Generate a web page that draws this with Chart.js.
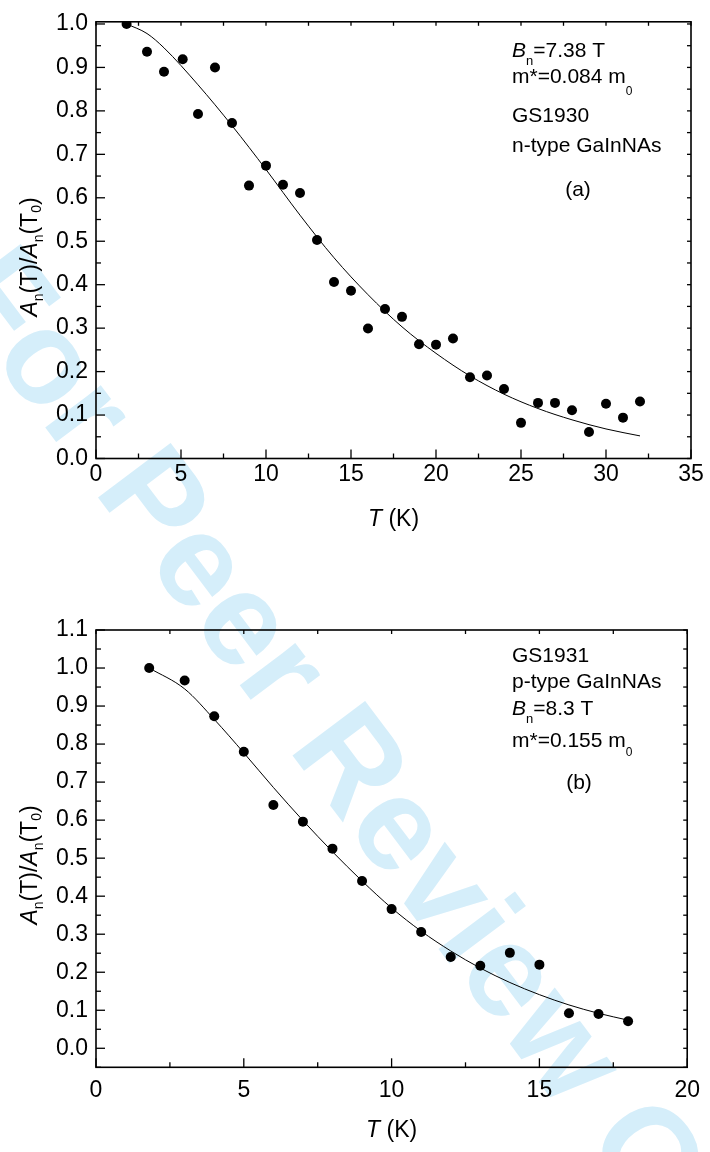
<!DOCTYPE html>
<html>
<head>
<meta charset="utf-8">
<script src="https://cdn.jsdelivr.net/npm/chart.js@4.4.1/dist/chart.umd.min.js"></script>
<style>
    html, body { margin: 0; padding: 0; background: #fff; }
    #page { position: relative; width: 710px; height: 1152px; overflow: hidden; background: #fff; }
    #mark {
        position: absolute; left: -58px; top: 180px;
        font: bold 132px "Liberation Sans", Arial, sans-serif; line-height: 132px;
        color: #d5eefa; white-space: nowrap;
        transform-origin: 0 112px; transform: rotate(53deg);
    }
    .panel { position: absolute; left: 0; width: 710px; }
    #panelA { top: 0; height: 560px; }
    #panelB { top: 600px; height: 552px; }
</style>
</head>
<body>
<div id="page">
    <div id="mark">For Peer Review Only</div>
    <div class="panel" id="panelA"><canvas id="chartA"></canvas></div>
    <div class="panel" id="panelB"><canvas id="chartB"></canvas></div>
</div>
<script>
// (a) GS1930, n-type: measured amplitude ratio vs temperature
const tempA = [1.8, 3, 4, 5.1, 6, 7, 8, 9, 10, 11, 12, 13, 14, 15, 16, 17, 18, 19, 20, 21, 22, 23, 24, 25, 26, 27, 28, 29, 30, 31, 32];
const ampA = [1.0, 0.936, 0.890, 0.919, 0.793, 0.900, 0.772, 0.628, 0.674, 0.630, 0.611, 0.503, 0.406, 0.386, 0.299, 0.344, 0.326, 0.263, 0.262, 0.276, 0.187, 0.191, 0.160, 0.082, 0.128, 0.128, 0.111, 0.061, 0.126, 0.094, 0.131];
// fitted curve (a)
const fitTempA = [1.8, 3, 4, 6, 8, 10, 12, 14, 16, 18, 20, 22, 24, 26, 28, 30, 32];
const fitAmpA = [1.0, 0.978, 0.945, 0.86, 0.766, 0.665, 0.56, 0.462, 0.377, 0.303, 0.242, 0.19, 0.148, 0.115, 0.089, 0.068, 0.052];

// (b) GS1931, p-type
const tempB = [1.8, 3, 4, 5, 6, 7, 8, 9, 10, 11, 12, 13, 14, 15, 16, 17, 18];
const ampB = [1.0, 0.967, 0.873, 0.780, 0.640, 0.596, 0.525, 0.440, 0.366, 0.306, 0.240, 0.217, 0.251, 0.220, 0.092, 0.090, 0.071];
const fitTempB = [1.8, 3, 4, 5, 6, 7, 8, 9, 10, 11, 12, 13, 14, 15, 16, 17, 18];
const fitAmpB = [1.0, 0.945, 0.865, 0.777, 0.686, 0.599, 0.517, 0.44, 0.369, 0.308, 0.256, 0.211, 0.173, 0.141, 0.114, 0.092, 0.074];

// axis ticks
const xTicksA = [0, 5, 10, 15, 20, 25, 30, 35];
const yTicksA = [0, 0.1, 0.2, 0.3, 0.4, 0.5, 0.6, 0.7, 0.8, 0.9, 1.0];
const xTicksB = [0, 5, 10, 15, 20];
const yTicksB = [0, 0.1, 0.2, 0.3, 0.4, 0.5, 0.6, 0.7, 0.8, 0.9, 1.0, 1.1];

const FONT = '"Liberation Sans", Arial, Helvetica, sans-serif';

const toPoints = (xs, ys) => xs.map((x, i) => ({ x, y: ys[i] }));
const halves = ticks => ticks.slice(1).map((v, i) => (v + ticks[i]) / 2);

// frame on all four sides, tick marks pointing inwards
const frameTicks = {
    id: 'frameTicks',
    afterDatasetsDraw(chart, args, opts) {
        const { ctx, chartArea: a, scales: { x, y } } = chart;
        const xMinor = halves(opts.xTicks);
        const yMinor = halves(opts.yTicks).concat(opts.yExtraMinor || []);
        const line = (x0, y0, x1, y1) => { ctx.beginPath(); ctx.moveTo(x0, y0); ctx.lineTo(x1, y1); ctx.stroke(); };
        ctx.save();
        ctx.strokeStyle = '#000';
        ctx.lineWidth = 1.3;
        opts.xTicks.forEach(v => { const p = x.getPixelForValue(v); line(p, a.bottom, p, a.bottom - 9); line(p, a.top, p, a.top + 4); });
        xMinor.forEach(v => { const p = x.getPixelForValue(v); line(p, a.bottom, p, a.bottom - 5); line(p, a.top, p, a.top + 4); });
        opts.yTicks.forEach(v => { const p = y.getPixelForValue(v); line(a.left, p, a.left + 9, p); line(a.right, p, a.right - 4, p); });
        yMinor.forEach(v => { const p = y.getPixelForValue(v); line(a.left, p, a.left + 5, p); line(a.right, p, a.right - 4, p); });
        ctx.lineWidth = 1.6;
        ctx.strokeRect(a.left, a.top, a.right - a.left, a.bottom - a.top);
        ctx.restore();
    }
};

// text runs with italics and subscripts
function drawRich(ctx, parts, x, y, align) {
    const fontOf = p => `${p.it ? 'italic ' : ''}${p.size || 21}px ${FONT}`;
    let w = 0;
    parts.forEach(p => { ctx.font = fontOf(p); w += ctx.measureText(p.t).width; });
    let cx = align === 'center' ? x - w / 2 : x;
    parts.forEach(p => {
        ctx.font = fontOf(p);
        ctx.fillText(p.t, cx, y + (p.dy || 0));
        cx += ctx.measureText(p.t).width;
    });
}

const richText = {
    id: 'richText',
    afterDraw(chart, args, opts) {
        const { ctx, chartArea: a } = chart;
        ctx.save();
        ctx.fillStyle = '#000';
        ctx.textBaseline = 'alphabetic';
        ctx.textAlign = 'left';
        opts.notes.forEach(n => drawRich(ctx, n.parts, n.x, n.y, n.align));
        // x title
        drawRich(ctx, [{ t: 'T', it: true, size: 23 }, { t: ' (K)', size: 23 }], (a.left + a.right) / 2, opts.xTitleY, 'center');
        // y title
        ctx.translate(opts.yTitleX, opts.yTitleY);
        ctx.rotate(-Math.PI / 2);
        drawRich(ctx, [
            { t: 'A', it: true, size: 23 }, { t: 'n', size: 14, dy: 6 },
            { t: '(T)/', size: 23 },
            { t: 'A', it: true, size: 23 }, { t: 'n', size: 14, dy: 6 },
            { t: '(T', size: 23 }, { t: '0', size: 14, dy: 4 }, { t: ')', size: 23 }
        ], 0, 0, 'center');
        ctx.restore();
    }
};

function makeChart(id, d) {
    return new Chart(document.getElementById(id), {
        type: 'scatter',
        data: {
            datasets: [
                {
                    data: toPoints(d.fitX, d.fitY), showLine: true, borderColor: '#000', borderWidth: 1,
                    pointRadius: 0, cubicInterpolationMode: 'monotone', order: 2
                },
                {
                    data: toPoints(d.x, d.y), pointRadius: 5, pointBackgroundColor: '#000',
                    pointBorderColor: '#000', pointBorderWidth: 0, order: 1
                }
            ]
        },
        options: {
            responsive: true,
            maintainAspectRatio: false,
            animation: false,
            events: [],
            layout: { padding: d.padding },
            plugins: {
                legend: { display: false },
                tooltip: { enabled: false },
                frameTicks: { xTicks: d.xTicks, yTicks: d.yTicks, yExtraMinor: d.yExtraMinor },
                richText: { notes: d.notes, xTitleY: d.xTitleY, yTitleX: 37, yTitleY: d.yTitleY }
            },
            scales: {
                x: {
                    type: 'linear', min: d.xMin, max: d.xMax,
                    grid: { display: false, drawTicks: false }, border: { display: false },
                    ticks: { color: '#000', font: { family: FONT, size: 23 }, padding: d.xPad, maxRotation: 0, callback: v => String(v) },
                    afterBuildTicks: s => { s.ticks = d.xTicks.map(v => ({ value: v })); },
                    afterFit: s => { s.height = d.xAxisH; }
                },
                y: {
                    type: 'linear', min: d.yMin, max: d.yMax,
                    grid: { display: false, drawTicks: false }, border: { display: false },
                    ticks: { color: '#000', font: { family: FONT, size: 23 }, padding: 8, callback: v => v.toFixed(1) },
                    afterBuildTicks: s => { s.ticks = d.yTicks.map(v => ({ value: v })); },
                    afterFit: s => { s.width = 96; }
                }
            }
        },
        plugins: [frameTicks, richText]
    });
}

makeChart('chartA', {
    x: tempA, y: ampA, fitX: fitTempA, fitY: fitAmpA,
    xTicks: xTicksA, yTicks: yTicksA,
    xMin: 0, xMax: 35, yMin: 0, yMax: 1.005,
    padding: { top: 21, right: 19, bottom: 0, left: 0 },
    xAxisH: 101.5, xPad: 2,
    xTitleY: 526, yTitleY: 257,
    notes: [
        { x: 512, y: 57, parts: [{ t: 'B', it: true }, { t: 'n', size: 13, dy: 8 }, { t: '=7.38 T' }] },
        { x: 512, y: 83, parts: [{ t: 'm*=0.084 m' }, { t: '0', size: 12, dy: 12 }] },
        { x: 512, y: 122, parts: [{ t: 'GS1930' }] },
        { x: 512, y: 152, parts: [{ t: 'n-type GaInNAs' }] },
        { x: 578, y: 196, align: 'center', parts: [{ t: '(a)' }] }
    ]
});

makeChart('chartB', {
    x: tempB, y: ampB, fitX: fitTempB, fitY: fitAmpB,
    xTicks: xTicksB, yTicks: yTicksB, yExtraMinor: [-0.05],
    xMin: 0, xMax: 20, yMin: -0.05, yMax: 1.1,
    padding: { top: 30, right: 19, bottom: 0, left: 0 },
    xAxisH: 84.7, xPad: 10,
    xTitleY: 537, yTitleY: 265,
    notes: [
        { x: 512, y: 62, parts: [{ t: 'GS1931' }] },
        { x: 512, y: 88, parts: [{ t: 'p-type GaInNAs' }] },
        { x: 512, y: 115, parts: [{ t: 'B', it: true }, { t: 'n', size: 13, dy: 8 }, { t: '=8.3 T' }] },
        { x: 512, y: 147, parts: [{ t: 'm*=0.155 m' }, { t: '0', size: 12, dy: 9 }] },
        { x: 579, y: 189, align: 'center', parts: [{ t: '(b)' }] }
    ]
});
</script>
</body>
</html>
